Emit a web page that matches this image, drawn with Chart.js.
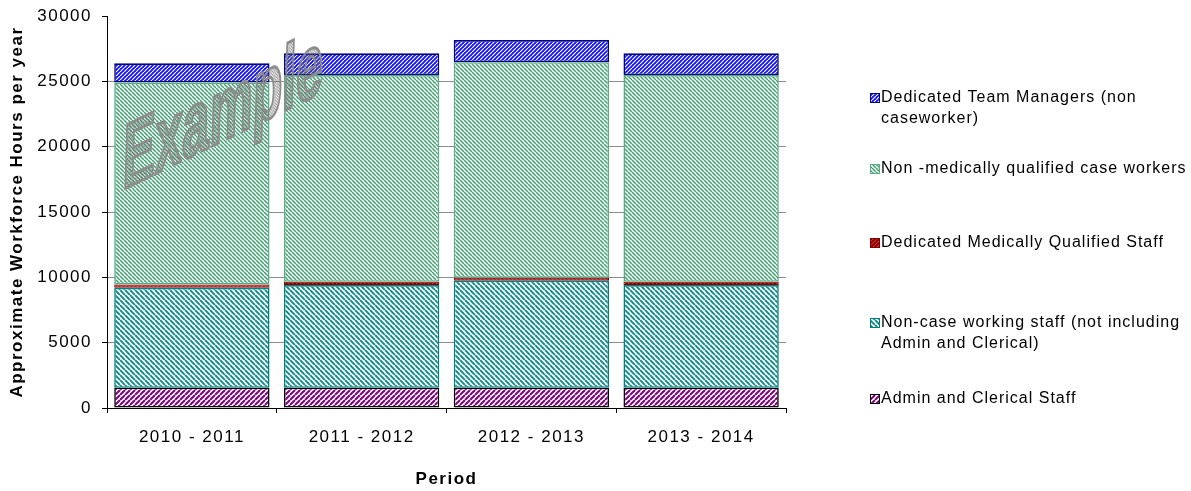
<!DOCTYPE html>
<html>
<head>
<meta charset="utf-8">
<script src="https://cdn.jsdelivr.net/npm/chart.js@4.4.1/dist/chart.umd.min.js"></script>
<style>
    body { margin: 0; background: #fff; }
    #wrap { width: 1191px; height: 491px; }
</style>
</head>
<body>
<div id="wrap"><canvas id="grafico" width="1191" height="491"></canvas></div>
<script>
// dados
const periodos = ["2010 - 2011", "2011 - 2012", "2012 - 2013", "2013 - 2014"];
const adminClerical = [1550, 1550, 1550, 1550];
const naoCaseWorking = [7650, 7860, 8190, 7860];
const medicosDedicados = [260, 250, 230, 250];
const naoMedicos = [15450, 15820, 16500, 15820];
const gerentesEquipe = [1470, 1660, 1690, 1660];
const ticksY = [0, 5000, 10000, 15000, 20000, 25000, 30000];

const nomesSeries = [
    "Admin and Clerical Staff",
    "Non-case working staff (not including Admin and Clerical)",
    "Dedicated Medically Qualified Staff",
    "Non -medically qualified case workers",
    "Dedicated Team Managers (non caseworker)"
];
// quebra de linha da legenda como no original
const linhasLegenda = [
    ["Admin and Clerical Staff"],
    ["Non-case working staff (not including", "Admin and Clerical)"],
    ["Dedicated Medically Qualified Staff"],
    ["Non -medically qualified case workers"],
    ["Dedicated Team Managers (non", "caseworker)"]
];

function hachura(cor, fundo, direcao, tam, larg) {
    const c = document.createElement('canvas');
    c.width = tam; c.height = tam;
    const x = c.getContext('2d');
    x.fillStyle = fundo;
    x.fillRect(0, 0, tam, tam);
    x.strokeStyle = cor;
    x.lineWidth = larg;
    x.beginPath();
    for (let k = -1; k <= 1; k++) {
        if (direcao === '/') {
            x.moveTo(k * tam, tam); x.lineTo(k * tam + tam, 0);
        } else {
            x.moveTo(k * tam, 0); x.lineTo(k * tam + tam, tam);
        }
    }
    x.stroke();
    return x.createPattern(c, 'repeat');
}

const padroes = [
    hachura('#800080', '#ffffff', '/', 5, 2.0),
    hachura('#0b8b8b', '#ffffff', '\\', 5, 1.9),
    hachura('#d03030', '#8b0000', '/', 4, 1.2),
    hachura('#3fa370', '#ffffff', '\\', 4, 1.5),
    hachura('#ffffff', '#1010ff', '/', 4, 1.2)
];
const bordas = ['#000000', '#008080', '#800000', '#5aac82', '#000080'];
const valores = [adminClerical, naoCaseWorking, medicosDedicados, naoMedicos, gerentesEquipe];

const fonte = "'Liberation Sans', Arial, sans-serif";

const pluginLegenda = {
    id: 'legendaLateral',
    beforeDraw(chart) {
        chart.ctx.letterSpacing = '1.5px';
    },
    afterDraw(chart) {
        const ctx = chart.ctx;
        const centros = [399, 323, 243, 169, 98];
        ctx.save();
        ctx.letterSpacing = '1px';
        ctx.font = '16px ' + fonte;
        ctx.fillStyle = '#000';
        ctx.textBaseline = 'middle';
        ctx.textAlign = 'left';
        for (let i = 0; i < linhasLegenda.length; i++) {
            const cy = centros[i];
            ctx.fillStyle = padroes[i];
            ctx.fillRect(870, cy - 4.5, 9, 9);
            ctx.strokeStyle = bordas[i];
            ctx.lineWidth = 1;
            ctx.strokeRect(870.5, cy - 4.5, 9, 9);
            ctx.fillStyle = '#000';
            linhasLegenda[i].forEach(function (linha, j) {
                ctx.fillText(linha, 881, cy + j * 20.5);
            });
        }
        ctx.restore();
    },
    afterDatasetsDraw(chart) {
        // marca d'agua "Example" (inclinada e esticada)
        const ctx = chart.ctx;
        const tela = document.createElement('canvas');
        tela.width = 2; tela.height = 2;
        const t = tela.getContext('2d');
        t.fillStyle = 'rgba(105,105,105,0.75)';
        t.fillRect(0, 0, 1, 1);
        t.fillRect(1, 1, 1, 1);
        ctx.save();
        ctx.transform(0.84, -0.41, -0.05, 1.6, 122, 190);
        ctx.font = 'bold 58px ' + fonte;
        ctx.letterSpacing = '0px';
        ctx.textBaseline = 'alphabetic';
        ctx.fillStyle = t.createPattern(tela, 'repeat');
        ctx.fillText('Example', 0, 0);
        ctx.strokeStyle = '#8c8c8c';
        ctx.lineWidth = 2;
        ctx.strokeText('Example', 0, 0);
        ctx.restore();
    }
};

const conjuntos = nomesSeries.map(function (nome, i) {
    return {
        label: nome,
        data: valores[i],
        backgroundColor: padroes[i],
        borderColor: bordas[i],
        borderWidth: i === 2 ? 1 : 1.6,
        borderSkipped: false,
        categoryPercentage: 0.915,
        barPercentage: 1
    };
});

const ctx = document.getElementById('grafico').getContext('2d');
window.meuGrafico = new Chart(ctx, {
    type: 'bar',
    data: {
        labels: periodos,
        datasets: conjuntos
    },
    options: {
        responsive: false,
        animation: false,
        layout: {
            padding: { left: 0, right: 405, top: 16, bottom: 0 }
        },
        scales: {
            x: {
                stacked: true,
                afterFit: function (s) { s.height = 83; },
                ticks: {
                    color: '#000',
                    padding: 14,
                    font: { family: fonte, size: 17 }
                },
                grid: {
                    offset: true,
                    drawOnChartArea: false,
                    tickLength: 5,
                    color: '#000'
                },
                border: { color: '#000', width: 1 },
                title: {
                    display: true,
                    text: 'Period',
                    color: '#000',
                    padding: { top: 0, bottom: 1 },
                    font: { family: fonte, size: 17, weight: 'bold' }
                }
            },
            y: {
                stacked: true,
                min: 0,
                max: 30000,
                afterFit: function (s) {
                    s.width = 107;
                    s.paddingTop = 0;
                },
                afterBuildTicks: function (s) {
                    s.ticks = ticksY.map(function (v) { return { value: v }; });
                },
                ticks: {
                    color: '#000',
                    padding: 10,
                    font: { family: fonte, size: 17 },
                    callback: function (v) { return String(v); }
                },
                grid: {
                    color: function (c) {
                        return c.tick && c.tick.value === 30000 ? 'rgba(0,0,0,0)' : '#8c8c8c';
                    },
                    tickColor: '#000',
                    tickLength: 5
                },
                border: { color: '#000', width: 1 },
                title: {
                    display: true,
                    text: 'Approximate Workforce Hours per year',
                    color: '#000',
                    padding: { top: 7, bottom: 0 },
                    font: { family: fonte, size: 17, weight: 'bold' }
                }
            }
        },
        plugins: {
            legend: { display: false },
            tooltip: { enabled: false },
            title: { display: false }
        }
    },
    plugins: [pluginLegenda]
});
</script>
</body>
</html>
